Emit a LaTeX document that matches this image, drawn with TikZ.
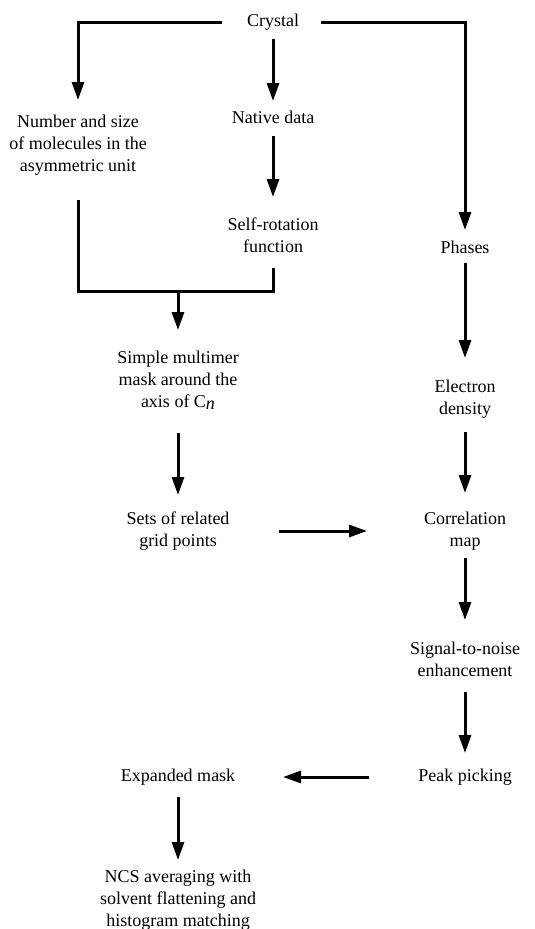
\documentclass[tikz,border=0pt]{standalone}
\usepackage{fontspec}
\setmainfont{Liberation Serif}
\usetikzlibrary{arrows.meta}
\begin{document}
\begin{tikzpicture}[x=1pt,y=-1pt,
  lbl/.style={inner sep=0pt, align=center, font=\fontsize{18pt}{22pt}\selectfont},
  ln/.style={line width=3pt, line join=miter},
  arr/.style={ln, -{Triangle[length=18pt,width=12pt]}}]
\useasboundingbox (0,0) rectangle (535,929);
% nodes
\node[lbl] (crystal) at (273,22) {Crystal};
\node[lbl] (number) at (78,145) {Number and size\\of molecules in the\\asymmetric unit};
\node[lbl] (native) at (273,117) {Native data};
\node[lbl] (selfrot) at (273,235) {Self-rotation\\function};
\node[lbl] (phases) at (465,247) {Phases};
\node[lbl] (simple) at (178,380) {Simple multimer\\mask around the\\axis of C\raisebox{-0.3ex}{\itshape n}};
\node[lbl] (electron) at (465,399) {Electron\\density};
\node[lbl] (sets) at (178,531) {Sets of related\\grid points};
\node[lbl] (corr) at (465,531) {Correlation\\map};
\node[lbl] (signal) at (465,659) {Signal-to-noise\\enhancement};
\node[lbl] (peak) at (465,777) {Peak picking};
\node[lbl] (expanded) at (178,777) {Expanded mask};
\node[lbl] (ncs) at (178,900) {NCS averaging with\\solvent flattening and\\histogram matching};
\coordinate (join) at (178,291);
% connectors
\draw[arr, shorten <=25pt, shorten >=45pt] (crystal.west) -| (number.center);
\draw[arr, shorten <=22pt, shorten >=17pt] (crystal.east) -| (phases.center);
\draw[arr, shorten <=17pt, shorten >=16pt] (crystal.center) -- (native.center);
\draw[arr, shorten <=19pt, shorten >=38pt] (native.center) -- (selfrot.center);
\draw[ln, shorten <=55pt, shorten >=33pt] (number.center) |- (join) -| (selfrot.center);
\draw[arr, shorten >=50pt] (join) -- (simple.center);
\draw[arr, shorten <=16pt, shorten >=41pt] (phases.center) -- (electron.center);
\draw[arr, shorten <=53pt, shorten >=36pt] (simple.center) -- (sets.center);
\draw[arr, shorten <=33pt, shorten >=38pt] (electron.center) -- (corr.center);
\draw[arr, shorten <=101pt, shorten >=98pt] (sets.center) -- (corr.center);
\draw[arr, shorten <=27pt, shorten >=39pt] (corr.center) -- (signal.center);
\draw[arr, shorten <=33pt, shorten >=24pt] (signal.center) -- (peak.center);
\draw[arr, shorten <=96pt, shorten >=105pt] (peak.center) -- (expanded.center);
\draw[arr, shorten <=20pt, shorten >=40pt] (expanded.center) -- (ncs.center);
\end{tikzpicture}
\end{document}
